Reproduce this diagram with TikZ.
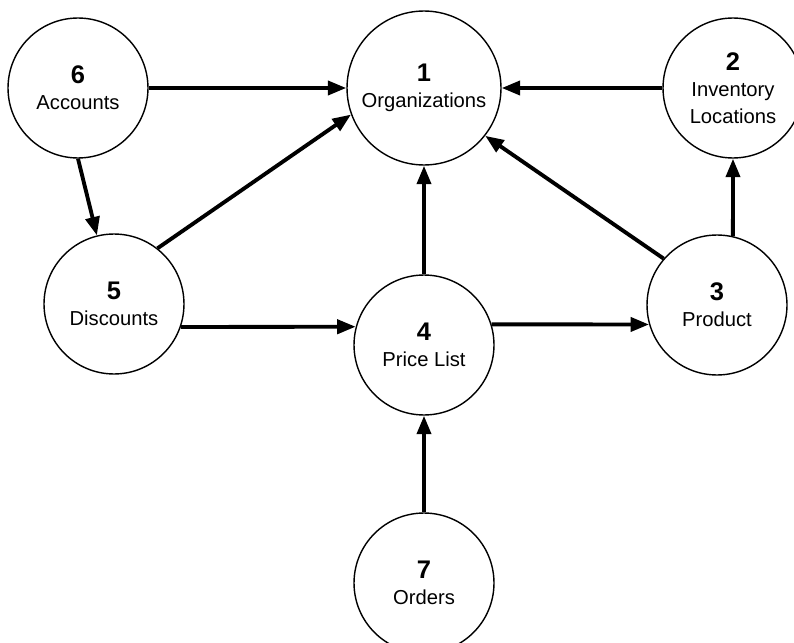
\documentclass[tikz,border=0pt]{standalone}
\usepackage{fontspec}
\setmainfont{Liberation Sans}
\usetikzlibrary{arrows.meta}

\tikzset{
	entity/.style={draw, circle, line width=0.8pt, inner sep=0pt, minimum size=2.8cm, align=center, font=\fontsize{11.5}{15}\selectfont},
	link/.style={line width=2.2pt, -{Triangle[length=0.37cm,width=0.28cm]}}
}
\newcommand{\num}[1]{{\fontsize{14.5}{16}\selectfont\bfseries #1}}

\begin{document}
\begin{tikzpicture}[x=0.02cm, y=-0.02cm]
	\useasboundingbox (0,0) rectangle (794,642);
	\node[entity, minimum size=3.08cm] (org) at (424,88) {\num{1}\\Organizations};
	\node[entity] (inv) at (733,88) {\num{2}\\Inventory\\Locations};
	\node[entity] (prod) at (717,305) {\num{3}\\Product};
	\node[entity] (price) at (424,345) {\num{4}\\Price List};
	\node[entity] (disc) at (114,304) {\num{5}\\Discounts};
	\node[entity] (acc) at (78,88) {\num{6}\\Accounts};
	\node[entity] (ord) at (424,583) {\num{7}\\Orders};

	\draw[link] (acc) -- (org);
	\draw[link] (inv) -- (org);
	\draw[link] (acc.270) -- (disc.104);
	\draw[link] (disc.52) -- (org.200);
	\draw[link] (price.north) -- (org.south);
	\draw[link] (prod.139) -- (org.-38);
	\draw[link] (prod.77) -- (inv.south);
	\draw[link] (disc.-19) -- (price.165);
	\draw[link] (price.17) -- (prod.196);
	\draw[link] (ord.north) -- (price.south);
\end{tikzpicture}
\end{document}
